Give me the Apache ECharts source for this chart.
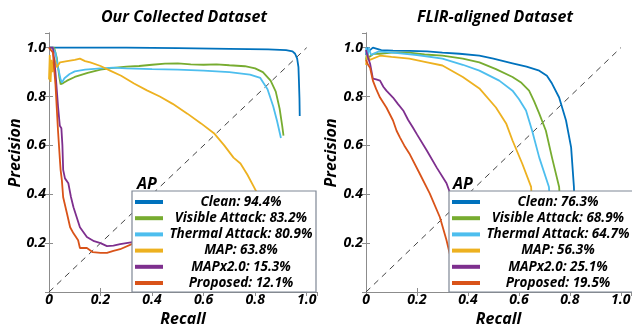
<!DOCTYPE html>
<html>
<head>
<meta charset="utf-8">
<script src="https://cdn.jsdelivr.net/npm/echarts@6/dist/echarts.min.js"></script>
<style>
  html, body { margin: 0; padding: 0; background: #fff; }
  #chart { width: 632px; height: 324px; }
</style>
</head>
<body>
<div id="chart"></div>
<script>
// series names, in legend order
const seriesNames = ['Clean', 'Visible Attack', 'Thermal Attack', 'MAP', 'MAPx2.0', 'Proposed'];
const seriesColors = ['#0072BD', '#77AC30', '#4DBEEE', '#EDB120', '#7E2F8E', '#D95319'];

// AP values (%) shown in the legends
const apOur = [94.4, 83.2, 80.9, 63.8, 15.3, 12.1];
const apFlir = [76.3, 68.9, 64.7, 56.3, 25.1, 19.5];

// Our Collected Dataset: [recall, precision]
const ourClean = [[0, 1.0], [0.1, 1.0], [0.3, 1.0], [0.5, 0.998], [0.7, 0.995], [0.85, 0.993], [0.92, 0.99],
  [0.945, 0.985], [0.955, 0.975], [0.963, 0.955], [0.968, 0.92], [0.97, 0.86], [0.972, 0.79], [0.973, 0.72]];
const ourVisible = [[0, 1.0], [0.02, 1.0], [0.03, 0.96], [0.04, 0.88], [0.045, 0.85], [0.055, 0.855],
  [0.07, 0.865], [0.1, 0.88], [0.15, 0.897], [0.2, 0.91], [0.25, 0.917], [0.3, 0.922], [0.35, 0.925],
  [0.4, 0.93], [0.45, 0.935], [0.5, 0.936], [0.55, 0.932], [0.6, 0.93], [0.65, 0.932], [0.7, 0.928],
  [0.76, 0.924], [0.8, 0.915], [0.83, 0.9], [0.86, 0.865], [0.88, 0.82], [0.895, 0.75], [0.905, 0.68], [0.91, 0.64]];
const ourThermal = [[0, 1.0], [0.015, 1.0], [0.025, 0.98], [0.035, 0.92], [0.045, 0.87], [0.05, 0.857],
  [0.06, 0.875], [0.08, 0.892], [0.1, 0.903], [0.14, 0.91], [0.2, 0.915], [0.25, 0.918], [0.3, 0.915],
  [0.4, 0.912], [0.5, 0.91], [0.6, 0.906], [0.7, 0.9], [0.78, 0.89], [0.82, 0.876], [0.848, 0.83],
  [0.87, 0.76], [0.885, 0.7], [0.9, 0.63]];
const ourMap = [[0, 0.87], [0.003, 0.97], [0.006, 0.86], [0.01, 0.95], [0.014, 0.9], [0.02, 0.96],
  [0.03, 0.92], [0.043, 0.94], [0.07, 0.945], [0.1, 0.95], [0.12, 0.955], [0.14, 0.945], [0.16, 0.94],
  [0.2, 0.925], [0.237, 0.906], [0.28, 0.885], [0.33, 0.853], [0.38, 0.825], [0.43, 0.8], [0.48, 0.77],
  [0.537, 0.73], [0.59, 0.69], [0.64, 0.65], [0.68, 0.6], [0.716, 0.55], [0.743, 0.526], [0.77, 0.48],
  [0.795, 0.43], [0.81, 0.4], [0.83, 0.35], [0.85, 0.3]];
const ourMapx2 = [[0, 1.0], [0.015, 1.0], [0.025, 0.9], [0.035, 0.76], [0.042, 0.68], [0.048, 0.67],
  [0.052, 0.6], [0.055, 0.5], [0.062, 0.465], [0.075, 0.445], [0.085, 0.39], [0.095, 0.347],
  [0.12, 0.265], [0.147, 0.225], [0.175, 0.208], [0.2, 0.2], [0.225, 0.188], [0.25, 0.19],
  [0.276, 0.196], [0.33, 0.205], [0.4, 0.21], [0.5, 0.22]];
const ourProposed = [[0, 1.0], [0.015, 0.98], [0.025, 0.85], [0.035, 0.66], [0.043, 0.53], [0.045, 0.5],
  [0.05, 0.457], [0.055, 0.388], [0.07, 0.32], [0.082, 0.265], [0.095, 0.24], [0.113, 0.212],
  [0.12, 0.18], [0.147, 0.18], [0.17, 0.163], [0.2, 0.16], [0.225, 0.16], [0.25, 0.168],
  [0.276, 0.175], [0.33, 0.2], [0.4, 0.21], [0.5, 0.22]];

// FLIR-aligned Dataset: [recall, precision]
const flirClean = [[0, 0.97], [0.005, 1.0], [0.01, 0.985], [0.027, 1.0], [0.06, 0.99], [0.106, 0.988],
  [0.17, 0.987], [0.24, 0.985], [0.3, 0.98], [0.367, 0.975], [0.445, 0.967], [0.5, 0.955],
  [0.575, 0.936], [0.63, 0.922], [0.68, 0.906], [0.71, 0.885], [0.73, 0.853], [0.758, 0.796],
  [0.785, 0.702], [0.805, 0.592], [0.816, 0.43], [0.82, 0.3]];
const flirVisible = [[0, 0.95], [0.005, 0.99], [0.01, 0.96], [0.03, 0.975], [0.055, 0.975], [0.1, 0.98],
  [0.17, 0.98], [0.23, 0.972], [0.3, 0.967], [0.38, 0.955], [0.445, 0.94], [0.51, 0.912],
  [0.575, 0.88], [0.61, 0.856], [0.64, 0.824], [0.66, 0.78], [0.68, 0.73], [0.706, 0.66],
  [0.73, 0.55], [0.758, 0.43], [0.765, 0.3]];
const flirThermal = [[0, 1.0], [0.005, 0.95], [0.01, 1.0], [0.02, 0.97], [0.05, 0.985], [0.106, 0.98],
  [0.2, 0.97], [0.3, 0.955], [0.38, 0.93], [0.445, 0.906], [0.523, 0.865], [0.575, 0.824],
  [0.6, 0.79], [0.628, 0.743], [0.652, 0.66], [0.68, 0.55], [0.718, 0.43], [0.725, 0.3]];
const flirMap = [[0, 0.93], [0.005, 0.97], [0.015, 0.95], [0.055, 0.967], [0.1, 0.962], [0.17, 0.955],
  [0.24, 0.94], [0.3, 0.927], [0.38, 0.88], [0.445, 0.833], [0.51, 0.755], [0.55, 0.69],
  [0.575, 0.62], [0.613, 0.526], [0.648, 0.43], [0.655, 0.3]];
const flirMapx2 = [[0, 0.99], [0.008, 0.96], [0.016, 0.934], [0.027, 0.873], [0.04, 0.87], [0.055, 0.865],
  [0.068, 0.84], [0.08, 0.824], [0.106, 0.796], [0.125, 0.77], [0.146, 0.743], [0.165, 0.705],
  [0.184, 0.673], [0.2, 0.645], [0.238, 0.58], [0.277, 0.51], [0.316, 0.445], [0.336, 0.388],
  [0.36, 0.3]];
const flirProposed = [[0, 0.95], [0.008, 0.93], [0.016, 0.918], [0.027, 0.865], [0.04, 0.83],
  [0.055, 0.796], [0.08, 0.755], [0.106, 0.702], [0.12, 0.66], [0.133, 0.633], [0.15, 0.6],
  [0.17, 0.567], [0.21, 0.486], [0.25, 0.404], [0.29, 0.306], [0.316, 0.212], [0.328, 0.159],
  [0.34, 0.12]];

const diagonal = [[0, 0], [1, 1]];

const ourData = [ourClean, ourVisible, ourThermal, ourMap, ourMapx2, ourProposed];
const flirData = [flirClean, flirVisible, flirThermal, flirMap, flirMapx2, flirProposed];

const FONT = '"Open Sans", Lato, sans-serif';
const AXIS_GRAY = '#8c8c8c';

const chart = echarts.init(document.getElementById('chart'), null, { renderer: 'canvas' });

// outerBoundsMode 'none': keep the plot boxes exactly where they are, labels may reach the edge
const grids = [
  { left: 49, top: 33, width: 268, height: 259, outerBoundsMode: 'none', containLabel: false },
  { left: 366, top: 33, width: 265, height: 259, outerBoundsMode: 'none', containLabel: false },
];

const tickFmt = (v) => (v === 0 ? '0' : v.toFixed(1));
const onTick = (v) => Math.abs(v * 5 - Math.round(v * 5)) < 1e-6;

function makeXAxes(gridIndex) {
  const base = {
    type: 'value', gridIndex, min: 0, max: 1.04, interval: 0.2,
    axisLine: { show: true, lineStyle: { color: AXIS_GRAY, width: 1 } },
    axisTick: { show: true, inside: true, length: 4, lineStyle: { color: AXIS_GRAY } },
    splitLine: { show: false },
  };
  return [
    {
      ...base, position: 'bottom',
      name: 'Recall', nameLocation: 'middle', nameGap: 12,
      nameTextStyle: { fontFamily: FONT, fontSize: 16, fontWeight: 'bold', fontStyle: 'italic', color: '#000' },
      axisLabel: {
        margin: 1, showMaxLabel: false, color: '#000', fontFamily: FONT, fontSize: 14,
        fontWeight: 'bold', fontStyle: 'italic',
        formatter: (v) => (onTick(v) ? tickFmt(v) : ''),
      },
    },
    { ...base, position: 'top', axisLabel: { show: false } },
  ];
}

function makeYAxes(gridIndex) {
  const base = {
    type: 'value', gridIndex, min: 0, max: 1.06, interval: 0.2,
    axisLine: { show: true, lineStyle: { color: AXIS_GRAY, width: 1 } },
    axisTick: { show: true, inside: true, length: 4, lineStyle: { color: AXIS_GRAY } },
    splitLine: { show: false },
  };
  return [
    {
      ...base, position: 'left',
      axisLabel: {
        margin: 3, showMaxLabel: false, color: '#000', fontFamily: FONT, fontSize: 14,
        fontWeight: 'bold', fontStyle: 'italic',
        formatter: (v) => (v === 0 || !onTick(v) ? '' : tickFmt(v)),
      },
    },
    { ...base, position: 'right', axisLabel: { show: false } },
  ];
}

const xAxes = [...makeXAxes(0), ...makeXAxes(1)];
const yAxes = [...makeYAxes(0), ...makeYAxes(1)];

// axisIndex: 0 for the left plot, 2 for the right one (each grid has bottom/top and left/right axes)
function makeSeries(datasets, axisIndex) {
  const out = [{
    name: 'diag', type: 'line', xAxisIndex: axisIndex, yAxisIndex: axisIndex,
    data: diagonal, symbol: 'none', silent: true,
    lineStyle: { color: '#444', width: 1, type: [6, 5] }, z: 1,
  }];
  datasets.forEach((d, i) => {
    out.push({
      name: seriesNames[i], type: 'line', xAxisIndex: axisIndex, yAxisIndex: axisIndex,
      data: d, symbol: 'none', showSymbol: false,
      lineStyle: { color: seriesColors[i], width: 1.8 },
      itemStyle: { color: seriesColors[i] },
      z: 2,
    });
  });
  return out;
}

function makeLegend(left, ap) {
  return {
    left, bottom: 32, orient: 'vertical',
    data: seriesNames,
    icon: 'rect', itemWidth: 28, itemHeight: 4, itemGap: 2.2,
    padding: [4, 2, 2, 3],
    backgroundColor: '#fff', borderColor: '#7f8795', borderWidth: 1.2, borderRadius: 0,
    selectedMode: false,
    formatter: (name) => '{t|' + name + ': ' + ap[seriesNames.indexOf(name)].toFixed(1) + '%}',
    textStyle: {
      fontSize: 13.5, lineHeight: 14,
      rich: {
        t: {
          width: 146, align: 'center', lineHeight: 14, color: '#000',
          fontFamily: FONT, fontSize: 13.5, fontWeight: 'bold', fontStyle: 'italic',
        },
      },
    },
  };
}

const titleStyle = { fontFamily: FONT, fontSize: 16, fontWeight: 'bold', fontStyle: 'italic', color: '#000' };
const precisionFont = 'italic bold 16px ' + FONT;

const option = {
  animation: false,
  backgroundColor: '#fff',
  title: [
    { text: 'Our Collected Dataset', left: 184, top: 9, textAlign: 'center', padding: 0, textStyle: titleStyle },
    { text: 'FLIR-aligned Dataset', left: 495, top: 9, textAlign: 'center', padding: 0, textStyle: titleStyle },
    { text: 'AP', left: 137, top: 176, padding: 0, textStyle: titleStyle, z: 10 },
    { text: 'AP', left: 453, top: 176, padding: 0, textStyle: titleStyle, z: 10 },
  ],
  graphic: [
    {
      type: 'text', x: 15, y: 153, rotation: Math.PI / 2,
      style: { text: 'Precision', fill: '#000', font: precisionFont, align: 'center', verticalAlign: 'middle' },
    },
    {
      type: 'text', x: 331, y: 153, rotation: Math.PI / 2,
      style: { text: 'Precision', fill: '#000', font: precisionFont, align: 'center', verticalAlign: 'middle' },
    },
  ],
  grid: grids,
  xAxis: xAxes,
  yAxis: yAxes,
  legend: [makeLegend(132, apOur), makeLegend(449, apFlir)],
  series: [...makeSeries(ourData, 0), ...makeSeries(flirData, 2)],
};

chart.setOption(option);
</script>
</body>
</html>
